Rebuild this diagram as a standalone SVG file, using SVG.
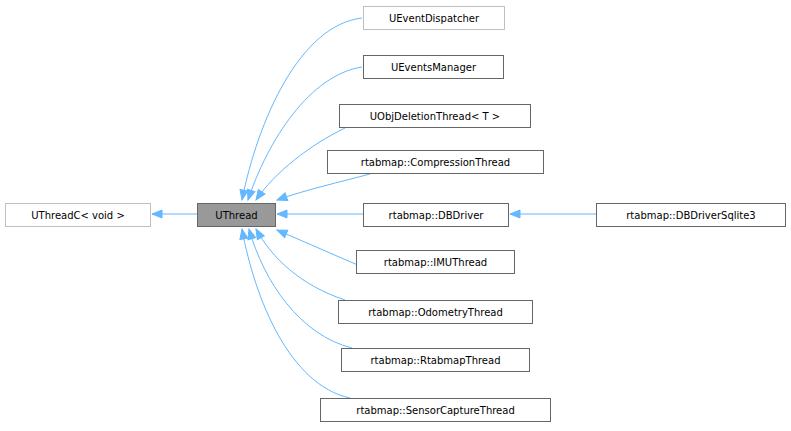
<svg xmlns="http://www.w3.org/2000/svg" width="791" height="431" viewBox="0 0 791 431">
<style>
.n rect{fill:#fff;stroke:#666;stroke-width:1}
.g rect{stroke:#bfbfbf}
text{font-family:"DejaVu Sans",sans-serif;font-size:10px;text-anchor:middle;fill:#000}
.e path{fill:none;stroke:#63b8ff;stroke-width:1}
</style>
<defs>
<marker id="a" markerUnits="userSpaceOnUse" markerWidth="14" markerHeight="12" refX="11" refY="5" orient="auto">
<path d="M1,1 L11,5 L1,9 Z" fill="#63b8ff" stroke="#63b8ff"/>
</marker>
</defs>
<rect width="791" height="431" fill="#fff"/>
<g id="edges" class="e">
<path d="M197,214 L152,214" marker-end="url(#a)"/>
<path d="M362,18 C300,25 258,120 242,200" marker-end="url(#a)"/>
<path d="M362,67 C310,75 268,140 248,200" marker-end="url(#a)"/>
<path d="M345,128 C310,145 275,172 256,200" marker-end="url(#a)"/>
<path d="M370,174 C340,182 305,190 277,200" marker-end="url(#a)"/>
<path d="M363,214 L277,214" marker-end="url(#a)"/>
<path d="M360,266 L277,230" marker-end="url(#a)"/>
<path d="M345,300 C300,285 272,258 256,229" marker-end="url(#a)"/>
<path d="M352,348 C300,335 264,282 249,229" marker-end="url(#a)"/>
<path d="M350,398 C290,385 255,300 242,229" marker-end="url(#a)"/>
<path d="M596,214 L510,214" marker-end="url(#a)"/>
</g>
<g id="UThreadC" class="n g"><rect x="5.5" y="203.5" width="145" height="23"/><text x="78" y="218.5">UThreadC&lt; void &gt;</text></g>
<g id="UThread" class="n"><rect x="197.5" y="203.5" width="78" height="23" style="fill:#999"/><text x="236.5" y="218.5">UThread</text></g>
<g id="UEventDispatcher" class="n g"><rect x="363.5" y="6.5" width="141" height="23"/><text x="434" y="21.5">UEventDispatcher</text></g>
<g id="UEventsManager" class="n"><rect x="363.5" y="55.5" width="140" height="23"/><text x="433.5" y="70.5">UEventsManager</text></g>
<g id="UObjDeletionThread" class="n"><rect x="339.5" y="104.5" width="191" height="23"/><text x="435" y="119.5">UObjDeletionThread&lt; T &gt;</text></g>
<g id="CompressionThread" class="n"><rect x="327.5" y="150.5" width="216" height="23"/><text x="435.5" y="165.5">rtabmap::CompressionThread</text></g>
<g id="DBDriver" class="n"><rect x="363.5" y="203.5" width="145" height="23"/><text x="436" y="218.5">rtabmap::DBDriver</text></g>
<g id="DBDriverSqlite3" class="n"><rect x="596.5" y="203.5" width="189" height="23"/><text x="691" y="218.5">rtabmap::DBDriverSqlite3</text></g>
<g id="IMUThread" class="n"><rect x="356.5" y="250.5" width="158" height="23"/><text x="435.5" y="265.5">rtabmap::IMUThread</text></g>
<g id="OdometryThread" class="n"><rect x="338.5" y="300.5" width="194" height="23"/><text x="435.5" y="315.5">rtabmap::OdometryThread</text></g>
<g id="RtabmapThread" class="n"><rect x="341.5" y="348.5" width="188" height="23"/><text x="435.5" y="363.5">rtabmap::RtabmapThread</text></g>
<g id="SensorCaptureThread" class="n"><rect x="320.5" y="398.5" width="230" height="23"/><text x="435.5" y="413.5">rtabmap::SensorCaptureThread</text></g>
</svg>
